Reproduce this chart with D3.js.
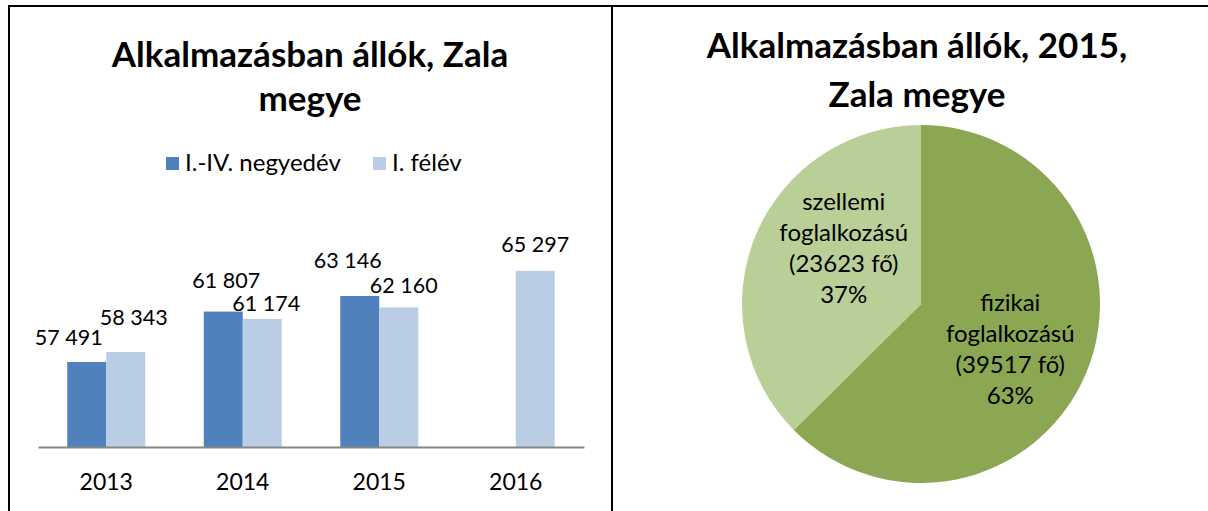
<!DOCTYPE html>
<html>
<head>
<meta charset="utf-8">
<script src="https://cdnjs.cloudflare.com/ajax/libs/d3/7.8.5/d3.min.js"></script>
<style>
	body { margin: 0; background: white; }
	svg { display: block; font-family: Lato, "Noto Sans", sans-serif; }
</style>
</head>
<body>
<svg id="chart" width="1208" height="511"></svg>
<script>
var years = ["2013", "2014", "2015", "2016"];
var seriesNames = ["I.-IV. negyedév", "I. félév"];
var fullYear = [57491, 61807, 63146, null];
var halfYear = [58343, 61174, 62160, 65297];
// label nudges [dx, dy] from the top of each bar, like the original chart
var fullYearNudge = [[-18, -17], [3, -24], [-12, -28], [0, 0]];
var halfYearNudge = [[8, -27], [4, -8], [5, -14], [0, -19]];

var pieNames = ["fizikai", "szellemi"];
var pieValues = [39517, 23623];
var piePercent = ["63%", "37%"];
var pieNudge = [[-3, 7], [15, -17]];

var colors = {
	full: "#4f81bd",
	half: "#b9cde5",
	axis: "#868686",
	pieDark: "#8ba752",
	pieLight: "#bacf98"
};

var svg = d3.select("#chart");

function drawFrame() {
	svg.append("line")
		.attr("x1", 8).attr("x2", 1208)
		.attr("y1", 6).attr("y2", 6)
		.attr("stroke", "black").attr("stroke-width", 2);
	svg.append("line")
		.attr("x1", 9).attr("x2", 9)
		.attr("y1", 5).attr("y2", 511)
		.attr("stroke", "black").attr("stroke-width", 2);
	svg.append("line")
		.attr("x1", 612).attr("x2", 612)
		.attr("y1", 5).attr("y2", 511)
		.attr("stroke", "black").attr("stroke-width", 2);
}

function drawTitle(lines, cx, y0, dy) {
	svg.append("text")
		.attr("text-anchor", "middle")
		.attr("font-weight", "bold")
		.attr("font-size", "35px")
		.attr("fill", "black")
		.selectAll("tspan")
		.data(lines)
		.enter().append("tspan")
		.attr("x", cx)
		.attr("y", function(d, i) { return y0 + i * dy; })
		.text(function(d) { return d; });
}

function drawBars() {
	var x0 = d3.scaleBand()
		.domain(years)
		.range([38, 584])
		.paddingInner(0.4286)
		.paddingOuter(0.2143);
	var x1 = d3.scaleBand()
		.domain([0, 1])
		.range([0, x0.bandwidth()]);
	var y = d3.scaleLinear()
		.domain([50200, 70000])
		.range([447, 216]);

	var series = [
		{ name: seriesNames[0], values: fullYear, nudge: fullYearNudge, color: colors.full },
		{ name: seriesNames[1], values: halfYear, nudge: halfYearNudge, color: colors.half }
	];

	var g = svg.append("g").attr("class", "bars");
	series.forEach(function(s, si) {
		var pts = years.map(function(yr, i) {
			return { year: yr, value: s.values[i], nudge: s.nudge[i] };
		}).filter(function(d) { return d.value != null; });

		g.selectAll(".bar" + si)
			.data(pts)
			.enter().append("rect")
			.attr("class", "bar" + si)
			.attr("x", function(d) { return x0(d.year) + x1(si); })
			.attr("y", function(d) { return y(d.value); })
			.attr("width", x1.bandwidth())
			.attr("height", function(d) { return y(50200) - y(d.value); })
			.attr("fill", s.color);

		g.selectAll(".lbl" + si)
			.data(pts)
			.enter().append("text")
			.attr("class", "lbl" + si)
			.attr("text-anchor", "middle")
			.attr("font-size", "21.5px")
			.attr("fill", "black")
			.attr("x", function(d) { return x0(d.year) + x1(si) + x1.bandwidth() / 2 + d.nudge[0]; })
			.attr("y", function(d) { return y(d.value) + d.nudge[1]; })
			.text(function(d) { return d3.format(",")(d.value).replace(",", " "); });
	});

	var axis = d3.axisBottom(x0).tickSize(0).tickPadding(0);
	var ag = svg.append("g")
		.attr("transform", "translate(0,447)")
		.call(axis);
	ag.select(".domain")
		.attr("stroke", colors.axis)
		.attr("stroke-width", 2);
	ag.selectAll("text")
		.attr("font-size", "23px")
		.attr("font-family", "Lato, sans-serif")
		.attr("fill", "black")
		.attr("dy", 0)
		.attr("y", 43);

	var legend = svg.append("g").attr("class", "legend");
	var lx = [166, 373];
	series.forEach(function(s, i) {
		legend.append("rect")
			.attr("x", lx[i]).attr("y", 157)
			.attr("width", 13).attr("height", 13)
			.attr("fill", s.color);
		legend.append("text")
			.attr("x", lx[i] + 19).attr("y", 171)
			.attr("font-size", "24px")
			.attr("fill", "black")
			.text(s.name);
	});
}

function drawPie() {
	var cx = 921, cy = 304, r = 179;
	var pie = d3.pie().sort(null).value(function(d) { return d; });
	var arcs = pie(pieValues);
	var arc = d3.arc().innerRadius(0).outerRadius(r);
	var labelArc = d3.arc().innerRadius(100).outerRadius(100);
	var fills = [colors.pieDark, colors.pieLight];
	var g = svg.append("g").attr("transform", "translate(" + cx + "," + cy + ")");
	g.selectAll("path")
		.data(arcs)
		.enter().append("path")
		.attr("d", arc)
		.attr("fill", function(d, i) { return fills[i]; });

	arcs.forEach(function(a, i) {
		var c = labelArc.centroid(a);
		var lines = [pieNames[i], "foglalkozású", "(" + pieValues[i] + " fő)", piePercent[i]];
		var lh = 31;
		var top = c[1] + pieNudge[i][1] - lh * 1.5 + 8;
		g.append("text")
			.attr("text-anchor", "middle")
			.attr("font-size", "24px")
			.attr("fill", "black")
			.selectAll("tspan")
			.data(lines)
			.enter().append("tspan")
			.attr("x", c[0] + pieNudge[i][0])
			.attr("y", function(d, j) { return top + j * lh; })
			.text(function(d) { return d; });
	});
}

drawFrame();
drawTitle(["Alkalmazásban állók, Zala", "megye"], 310, 67, 44);
drawBars();
drawTitle(["Alkalmazásban állók, 2015,", "Zala megye"], 917, 58, 49);
drawPie();
</script>
</body>
</html>
